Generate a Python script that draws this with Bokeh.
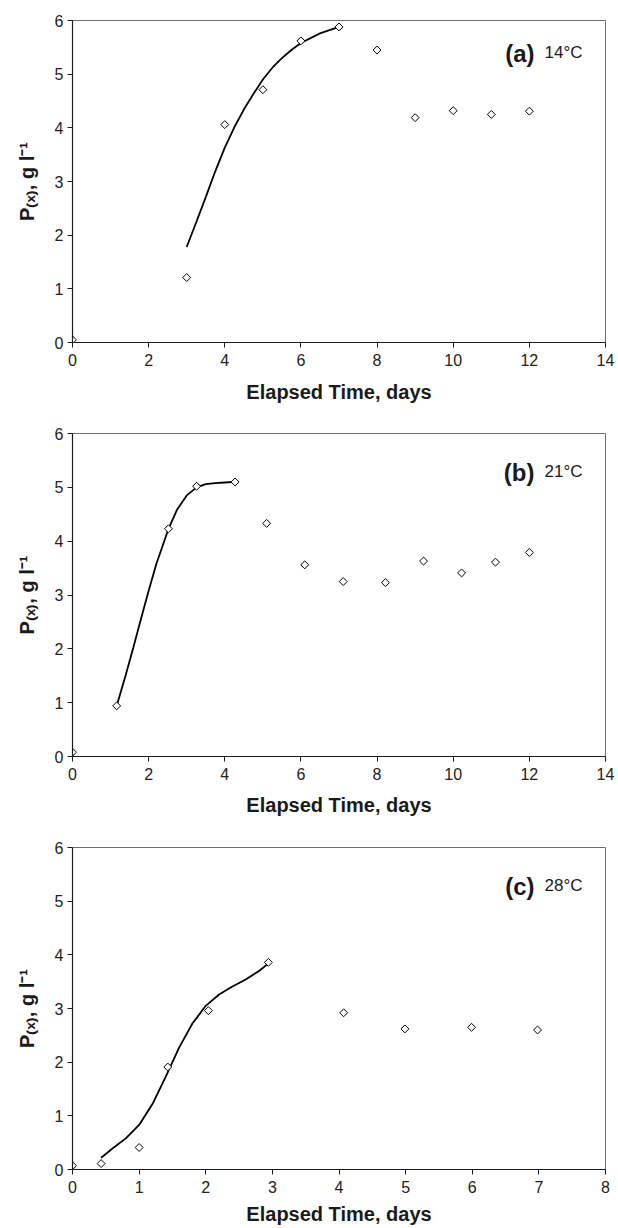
import math
from bokeh.plotting import figure
from bokeh.models import Label, FixedTicker, Range1d
from bokeh.layouts import column
from bokeh.embed import file_html
from bokeh.resources import INLINE

FONT = "Liberation Sans"

# ---------------- data ----------------
# (a) 14 C
ta = [0, 3, 4, 5, 6, 7, 8, 9, 10, 11, 12]
pa = [0.05, 1.21, 4.06, 4.71, 5.62, 5.88, 5.45, 4.19, 4.32, 4.25, 4.31]
fit_ta = [3.0, 3.25, 3.5, 3.75, 4.0, 4.25, 4.5, 4.75, 5.0, 5.25, 5.5, 5.75, 6.0, 6.5, 7.0]
fit_pa = [1.78, 2.24, 2.71, 3.19, 3.63, 4.01, 4.34, 4.63, 4.90, 5.12, 5.30, 5.45, 5.58, 5.76, 5.88]

# (b) 21 C
tb = [0, 1.16, 2.52, 3.26, 4.27, 5.10, 6.10, 7.11, 8.22, 9.22, 10.22, 11.11, 12.0]
pb = [0.08, 0.94, 4.23, 5.02, 5.10, 4.33, 3.56, 3.25, 3.23, 3.63, 3.41, 3.61, 3.79]
fit_tb = [1.16, 1.4, 1.6, 1.8, 2.0, 2.2, 2.4, 2.52, 2.75, 3.0, 3.26, 3.5, 3.75, 4.0, 4.27]
fit_pb = [0.94, 1.52, 2.03, 2.56, 3.08, 3.57, 3.98, 4.23, 4.59, 4.85, 5.00, 5.06, 5.08, 5.09, 5.10]

# (c) 28 C
tc = [0, 0.43, 1.0, 1.43, 2.04, 2.94, 4.07, 4.99, 5.99, 6.98]
pc = [0.07, 0.11, 0.41, 1.91, 2.96, 3.86, 2.92, 2.62, 2.65, 2.60]
fit_tc = [0.43, 0.6, 0.8, 1.0, 1.2, 1.4, 1.6, 1.8, 2.0, 2.2, 2.4, 2.6, 2.8, 2.94]
fit_pc = [0.22, 0.39, 0.58, 0.83, 1.22, 1.73, 2.27, 2.72, 3.05, 3.26, 3.41, 3.54, 3.70, 3.84]

x_ticks_ab = [0, 2, 4, 6, 8, 10, 12, 14]
x_ticks_c = [0, 1, 2, 3, 4, 5, 6, 7, 8]
y_ticks = [0, 1, 2, 3, 4, 5, 6]

X_LABEL = "Elapsed Time, days"
Y_LABEL = "P\u208d\u2093\u208e, g l\u207b\u00b9"

panels = [
    dict(t=ta, p=pa, ft=fit_ta, fp=fit_pa, xmax=14, xt=x_ticks_ab, tag="(a)", temp="14°C",
         height=412, top=20, bottom=70, right=13, tag_y=289, xstand=12),
    dict(t=tb, p=pb, ft=fit_tb, fp=fit_pb, xmax=14, xt=x_ticks_ab, tag="(b)", temp="21°C",
         height=414, top=21, bottom=70, right=13, tag_y=284, xstand=11),
    dict(t=tc, p=pc, ft=fit_tc, fp=fit_pc, xmax=8, xt=x_ticks_c, tag="(c)", temp="28°C",
         height=402, top=21, bottom=59, right=9, tag_y=283, xstand=7),
]

W = 618
figs = []
for d in panels:
    p = figure(width=W, height=d["height"], output_backend="svg", toolbar_location=None,
               x_range=Range1d(0, d["xmax"]), y_range=Range1d(0, 6),
               min_border_left=72, min_border_right=d["right"],
               min_border_top=d["top"], min_border_bottom=d["bottom"])
    p.background_fill_color = "white"
    p.border_fill_color = "white"
    p.outline_line_color = "#6e6e6e"
    p.outline_line_width = 1
    p.xgrid.visible = False
    p.ygrid.visible = False

    p.xaxis.ticker = FixedTicker(ticks=d["xt"])
    p.yaxis.ticker = FixedTicker(ticks=y_ticks)
    for ax in (p.xaxis, p.yaxis):
        ax.axis_line_color = "#1a1a1a"
        ax.axis_line_width = 1.2
        ax.major_tick_line_color = "#1a1a1a"
        ax.major_tick_line_width = 1
        ax.major_tick_in = 0
        ax.major_tick_out = 5
        ax.minor_tick_line_color = None
        ax.major_label_text_font = FONT
        ax.major_label_text_font_size = "16px"
        ax.major_label_text_color = "#222222"
        ax.axis_label_text_font = FONT
        ax.axis_label_text_font_style = "bold"
        ax.axis_label_text_font_size = "20px"
        ax.axis_label_text_color = "#1a1a1a"
    p.xaxis.major_label_standoff = 6
    p.yaxis.major_label_standoff = 4
    p.xaxis.axis_label = X_LABEL
    p.xaxis.axis_label_standoff = d["xstand"]
    p.yaxis.axis_label = Y_LABEL
    p.yaxis.axis_label_standoff = 14

    p.line(d["ft"], d["fp"], line_color="black", line_width=1.8)
    p.scatter(d["t"], d["p"], marker="square", angle=math.pi / 4, size=5.6,
              fill_color="white", line_color="black", line_width=1)

    # panel tag
    p.add_layout(Label(x=462, y=d["tag_y"], x_units="screen", y_units="screen", text=d["tag"],
                       text_font=FONT, text_font_style="bold", text_font_size="24px",
                       text_align="right", text_baseline="alphabetic", text_color="#1a1a1a"))
    p.add_layout(Label(x=472, y=d["tag_y"] + 1, x_units="screen", y_units="screen", text=d["temp"],
                       text_font=FONT, text_font_size="17px",
                       text_align="left", text_baseline="alphabetic", text_color="#1a1a1a"))
    figs.append(p)

layout = column(*figs, spacing=0)
open("out.html", "w").write(file_html(layout, INLINE))
